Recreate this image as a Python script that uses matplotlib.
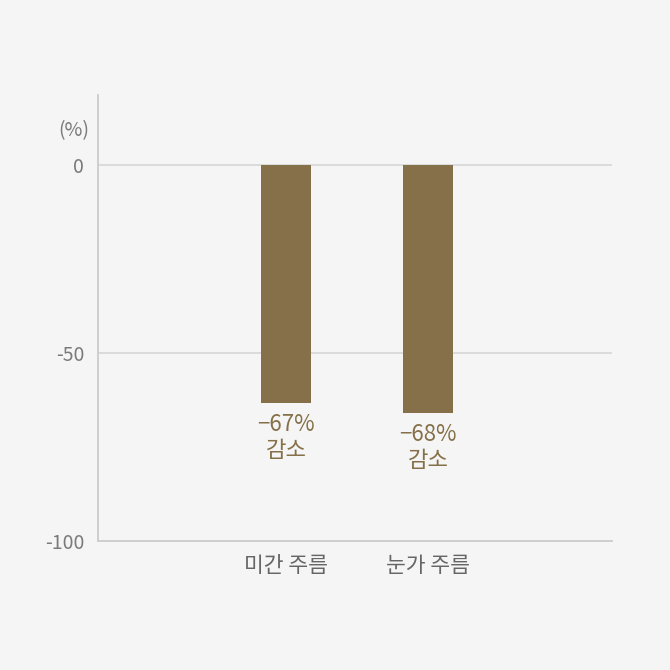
import matplotlib
matplotlib.use("Agg")
import matplotlib.pyplot as plt

categories = ["미간 주름", "눈가 주름"]
values = [-63.2, -65.9]
value_labels = ["\u221267%", "\u221268%"]
sub_labels = ["감소", "감소"]
yticks = [0, -50, -100]
ytick_labels = ["0", "-50", "-100"]

plt.rcParams['font.family'] = ['Noto Sans CJK KR', 'DejaVu Sans']

bg = "#f5f5f5"
bar_color = "#857049"

fig = plt.figure(figsize=(6.7, 6.7), dpi=100, facecolor=bg)
ax = fig.add_axes([98/670, (670-541)/670, (612-98)/670, (541-95)/670])
ax.set_facecolor(bg)

x = list(range(len(categories)))
ax.bar(x, values, width=0.352, color=bar_color, zorder=3)

ax.set_xlim(-1.324, 2.296)
ax.set_ylim(-100, 18.6)

for yv in [0, -50]:
    ax.axhline(yv, color="#d9d9d9", lw=1.3, zorder=1)

ax.set_yticks(yticks)
ax.set_yticklabels(ytick_labels, fontsize=14, color="#7a7a7a")
ax.tick_params(axis='y', length=0, pad=10)
ax.set_xticks(x)
ax.set_xticklabels(categories, fontsize=15.5, color="#666666")
ax.tick_params(axis='x', length=0, pad=10)

for s in ["top", "right"]:
    ax.spines[s].set_visible(False)
ax.spines["left"].set_color("#cccccc")
ax.spines["bottom"].set_color("#cccccc")
ax.spines["left"].set_linewidth(1.3)
ax.spines["bottom"].set_linewidth(1.3)

for xi, v, vl, sl in zip(x, values, value_labels, sub_labels):
    ax.annotate(vl, (xi, v), xytext=(0, -22), textcoords="offset pixels",
                ha="center", va="center", fontsize=16, color=bar_color)
    ax.annotate(sl, (xi, v), xytext=(0, -48), textcoords="offset pixels",
                ha="center", va="center", fontsize=16, color=bar_color)

fig.text(89/670, 1 - 131/670, "(%)", ha="right", va="center", fontsize=14, color="#7a7a7a")

fig.savefig("out.png", dpi=100, facecolor=bg)
